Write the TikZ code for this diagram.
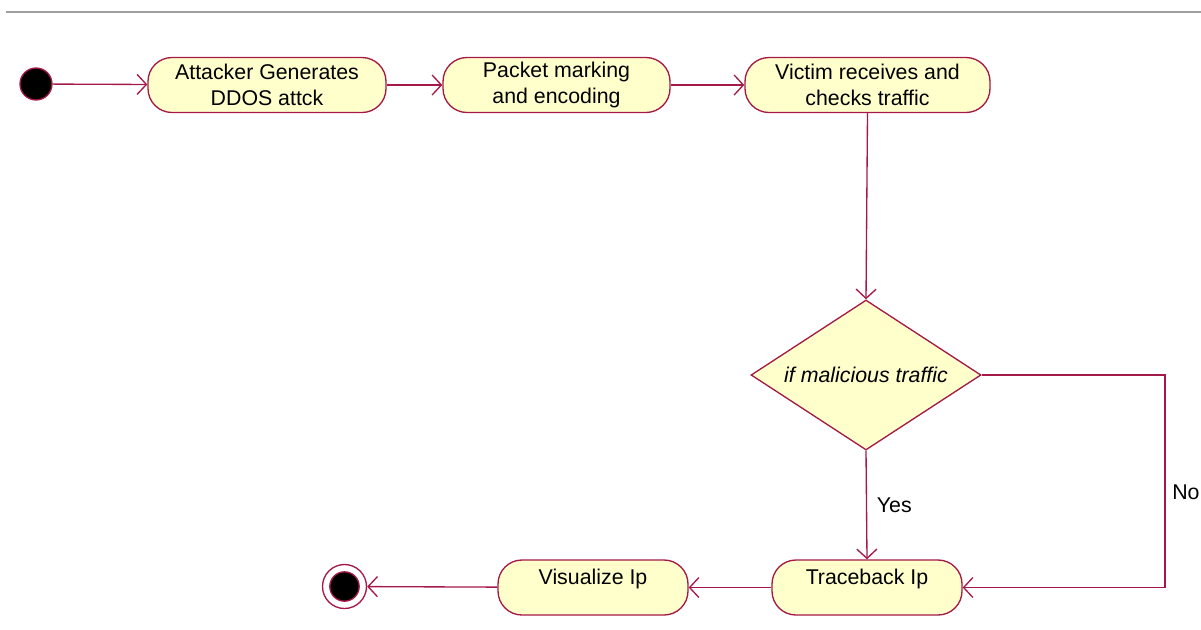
\documentclass[tikz,border=0pt]{standalone}
\usepackage{fontspec}
\setmainfont{Liberation Sans}
\usetikzlibrary{arrows.meta,shapes.geometric}
\definecolor{uline}{RGB}{165,25,70}
\definecolor{ufill}{RGB}{255,255,204}
\begin{document}
\begin{tikzpicture}[x=0.75pt,y=-0.75pt,
  txt/.style={font=\fontsize{16}{20}\selectfont},
  act/.style={txt,draw=uline,fill=ufill,line width=1pt,rounded corners=18pt,align=center,inner sep=0pt,minimum height=41.25pt},
  arr/.style={draw=uline,line width=1pt,-{Straight Barb[length=7pt,width=15pt]}},
  plain/.style={draw=uline,line width=1pt}]
\useasboundingbox (0,0) rectangle (1201,629);
\clip (0,0) rectangle (1201,629);
\draw[gray!75,line width=2pt] (6,12) -- (1201,12);
% start
\node[circle,fill=black,draw=uline,line width=1pt,minimum size=24pt,inner sep=0pt] (init) at (36,84) {};
% activities
\node[act,minimum width=178.5pt] (a1) at (267,85) {Attacker Generates\\DDOS attck};
\node[act,minimum width=170.25pt] (a2) at (556.5,85) {Packet marking\\and encoding};
\node[act,minimum width=183.75pt] (a3) at (867.5,85) {Victim receives and\\checks traffic};
% decision
\node[diamond,draw=uline,fill=ufill,line width=1pt,inner sep=0pt,minimum width=172.5pt,minimum height=112.5pt] (d) at (866,375) {};
\node[txt,font=\fontsize{16}{20}\selectfont\itshape] (dt) at (d.center) {if malicious traffic};
% lower activities
\node[act,minimum width=142.5pt] (tb) at (867,587.5) {Traceback Ip\\[-10pt]\strut};
\node[act,minimum width=142.5pt] (vi) at (593,587.5) {Visualize Ip\\[-10pt]\strut};
% end
\node[circle,fill=white,draw=uline,line width=1pt,minimum size=33pt,inner sep=0pt] (fin) at (344.5,586.5) {};
\node[circle,fill=black,draw=uline,line width=1pt,minimum size=22pt,inner sep=0pt] (fin2) at (fin.center) {};
% connectors
\draw[arr] (init) -- (a1);
\draw[arr] (a1) -- (a2);
\draw[arr] (a2) -- (a3);
\draw[arr] (a3.south) -- (d.north);
\draw[arr] (d.south) -- node[txt,right=4pt] (yes) {Yes} (tb.north);
\coordinate (nc) at (1165,375);
\draw[arr] (d.east) -- (nc) |- (tb.east);
\node[txt,anchor=west,inner sep=0pt] (no) at (1172,492) {No};
\draw[arr] (tb) -- (vi);
\draw[arr] (vi) -- (fin);
\end{tikzpicture}
\end{document}
